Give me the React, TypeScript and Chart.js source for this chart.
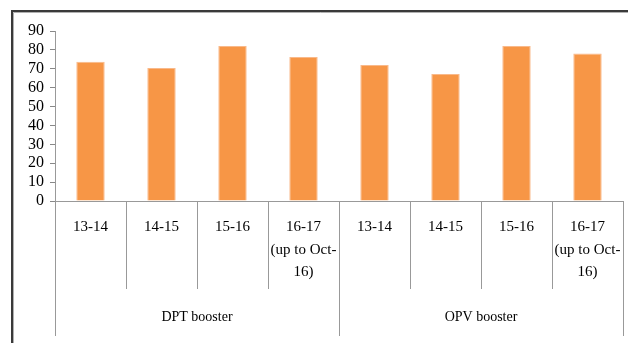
import React, { useEffect, useRef } from "react";
import { Chart, registerables } from "chart.js";

Chart.register(...registerables);

const categories: (string | string[])[] = [
  "13-14",
  "14-15",
  "15-16",
  ["16-17", "(up to Oct-", "16)"],
  "13-14",
  "14-15",
  "15-16",
  ["16-17", "(up to Oct-", "16)"],
];
const groups = ["DPT booster", "OPV booster"];
const groupSize = 4;
const values = [73.7, 70.4, 82, 76.3, 72, 67.2, 82, 78.1];
const yMax = 90;
const yStep = 10;

const FONT = "'Liberation Serif', 'Times New Roman', serif";

const framePlugin = {
  id: "frame",
  beforeDraw(chart: any) {
    const ctx = chart.ctx;
    ctx.save();
    ctx.fillStyle = "#fff";
    ctx.fillRect(0, 0, chart.width, chart.height);
    ctx.strokeStyle = "#3a3a3a";
    ctx.lineWidth = 2;
    ctx.beginPath();
    ctx.moveTo(12, chart.height);
    ctx.lineTo(12, 11);
    ctx.lineTo(chart.width, 11);
    ctx.stroke();
    ctx.strokeStyle = "#b0b0b0";
    ctx.lineWidth = 1;
    ctx.beginPath();
    ctx.moveTo(13.5, chart.height);
    ctx.lineTo(13.5, 12.5);
    ctx.lineTo(chart.width, 12.5);
    ctx.stroke();
    ctx.restore();
  },
  afterDraw(chart: any) {
    const xs = chart.scales.x;
    const ctx = chart.ctx;
    const n = categories.length;
    const step = (xs.right - xs.left) / n;
    ctx.save();
    ctx.strokeStyle = "#999";
    ctx.lineWidth = 1;
    for (let i = 0; i <= n; i++) {
      const x = Math.round(xs.left + i * step) + 0.5;
      const isGroup = i % groupSize === 0;
      ctx.beginPath();
      ctx.moveTo(x, xs.top);
      ctx.lineTo(x, xs.top + (isGroup ? 135 : 88));
      ctx.stroke();
    }
    ctx.fillStyle = "#000";
    ctx.font = `14px ${FONT}`;
    ctx.textAlign = "center";
    ctx.textBaseline = "middle";
    groups.forEach((g, gi) => {
      const x = xs.left + (gi * groupSize + groupSize / 2) * step;
      ctx.fillText(g, x, xs.top + 116);
    });
    ctx.restore();
  },
};

export default function App() {
  const ref = useRef<HTMLCanvasElement>(null);
  useEffect(() => {
    if (!ref.current) return;
    const chart = new Chart(ref.current, {
      type: "bar",
      data: {
        labels: categories as any,
        datasets: [
          {
            data: values,
            backgroundColor: "#F79646",
            borderColor: "#F9B98A",
            borderWidth: 1,
            barPercentage: 0.4,
            categoryPercentage: 1,
          },
        ],
      },
      options: {
        animation: false,
        responsive: false,
        maintainAspectRatio: false,
        layout: { padding: { top: 31, right: 5, left: 0, bottom: 0 } },
        plugins: { legend: { display: false }, tooltip: { enabled: false } },
        scales: {
          x: {
            grid: {
              display: true,
              drawOnChartArea: false,
              drawTicks: true,
              tickLength: 15,
              color: "rgba(0,0,0,0)",
            },
            border: { display: true, color: "#999", width: 1 },
            ticks: {
              color: "#000",
              padding: 0,
              font: { family: FONT, size: 15, lineHeight: 1.5 },
              maxRotation: 0,
              autoSkip: false,
            },
            afterFit(scale: any) {
              scale.height = 142;
            },
          },
          y: {
            min: 0,
            max: yMax,
            grid: {
              display: true,
              drawOnChartArea: false,
              drawTicks: true,
              tickLength: 5,
              color: "#888",
            },
            border: { display: true, color: "#999", width: 1 },
            ticks: {
              stepSize: yStep,
              autoSkip: false,
              color: "#000",
              padding: 6,
              font: { family: FONT, size: 16 },
            },
            afterFit(scale: any) {
              scale.width = 55;
            },
          },
        },
      },
      plugins: [framePlugin],
    });
    return () => chart.destroy();
  }, []);
  return (
    <div style={{ position: "fixed", left: 0, top: 0, width: 628, height: 343 }}>
      <canvas ref={ref} width={628} height={343} style={{ width: 628, height: 343 }} />
    </div>
  );
}
